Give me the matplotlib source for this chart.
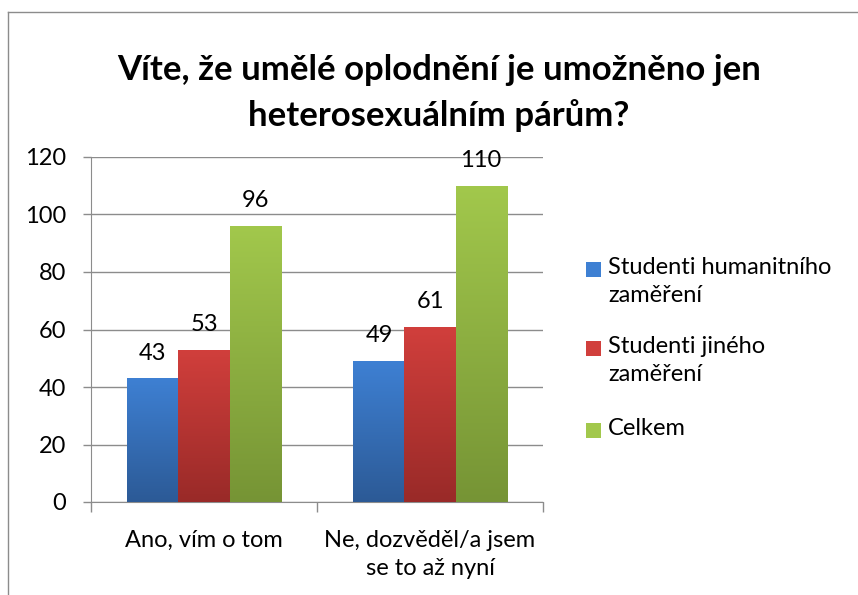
import numpy as np
import matplotlib.pyplot as plt
from matplotlib.colors import LinearSegmentedColormap
from matplotlib.patches import Rectangle
from matplotlib.lines import Line2D

# data
categories = ['Ano, vím o tom', 'Ne, dozvěděl/a jsem\nse to až nyní']
series_names = ['Studenti humanitního\nzaměření', 'Studenti jiného\nzaměření', 'Celkem']
humanitni = [43, 49]
jine = [53, 61]
celkem = [96, 110]
title = 'Víte, že umělé oplodnění je umožněno jen\nheterosexuálním párům?'

top_colors = ['#3e80d3', '#d13f3c', '#a2c84c']
bottom_colors = ['#2c5a96', '#992a28', '#769435']

plt.rcParams['font.family'] = ['Lato', 'DejaVu Sans']
W, H = 858, 595
grey = '#8c8c8c'

fig = plt.figure(figsize=(W / 100, H / 100), dpi=100)

def fx(px):
    return px / W

def fy(py):
    return 1 - py / H

# chart frame (only left and top edges are inside the picture)
fig.add_artist(Line2D([fx(8), fx(8)], [0, fy(12)], color=grey, lw=1))
fig.add_artist(Line2D([fx(8), 1], [fy(12), fy(12)], color=grey, lw=1))

ax = fig.add_axes([fx(91), 1 - 502 / H, fx(452), 345 / H])

x = np.arange(len(categories))
w = 0.2257
all_series = [humanitni, jine, celkem]

for i, vals in enumerate(all_series):
    cmap = LinearSegmentedColormap.from_list('g%d' % i, [bottom_colors[i], top_colors[i]])
    bars = ax.bar(x + (i - 1) * w, vals, w, color='none', edgecolor='none', zorder=3)
    for b, v in zip(bars, vals):
        x0 = b.get_x()
        grad = np.linspace(0, 1, 256).reshape(-1, 1)
        im = ax.imshow(grad, cmap=cmap, origin='lower', aspect='auto',
                       extent=[x0, x0 + w, 0, v], zorder=3)
        im.set_clip_path(b)
        ax.annotate(str(v), (b.get_x() + w / 2, v), xytext=(0, 13.5),
                    textcoords='offset points', ha='center', va='baseline',
                    fontsize=17, color='black', zorder=4)

ax.set_xlim(-0.5, 1.5)
ax.set_ylim(0, 120)
ax.set_yticks(range(0, 121, 20))
ax.yaxis.grid(True, color=grey, lw=1, zorder=0)
ax.set_axisbelow(True)
for s in ['top', 'right']:
    ax.spines[s].set_visible(False)
for s in ['left', 'bottom']:
    ax.spines[s].set_color(grey)
ax.tick_params(axis='y', length=6, width=1, color=grey, pad=12, labelsize=17)
ax.set_xticks(x)
ax.set_xticklabels(categories, fontsize=17, linespacing=1.4)
ax.tick_params(axis='x', length=0, pad=20)
ax.set_xticks([-0.5, 0.5, 1.5], minor=True)
ax.tick_params(axis='x', which='minor', length=7, width=1, color=grey)

# title
fig.text(fx(439), fy(93), title, ha='center', va='center', fontsize=25,
         fontweight='bold', linespacing=1.5)

# legend drawn by hand so the squares sit at the first line of each label
leg_y = [269, 348, 430]
for i, name in enumerate(series_names):
    cy = leg_y[i]
    fig.add_artist(Rectangle((fx(586), fy(cy + 7.5)), fx(15), 15 / H,
                             transform=fig.transFigure,
                             facecolor=top_colors[i], edgecolor='none'))
    fig.text(fx(608), fy(cy - 12), name, ha='left', va='top', fontsize=17,
             linespacing=1.4)

fig.savefig('out.png', dpi=100)
